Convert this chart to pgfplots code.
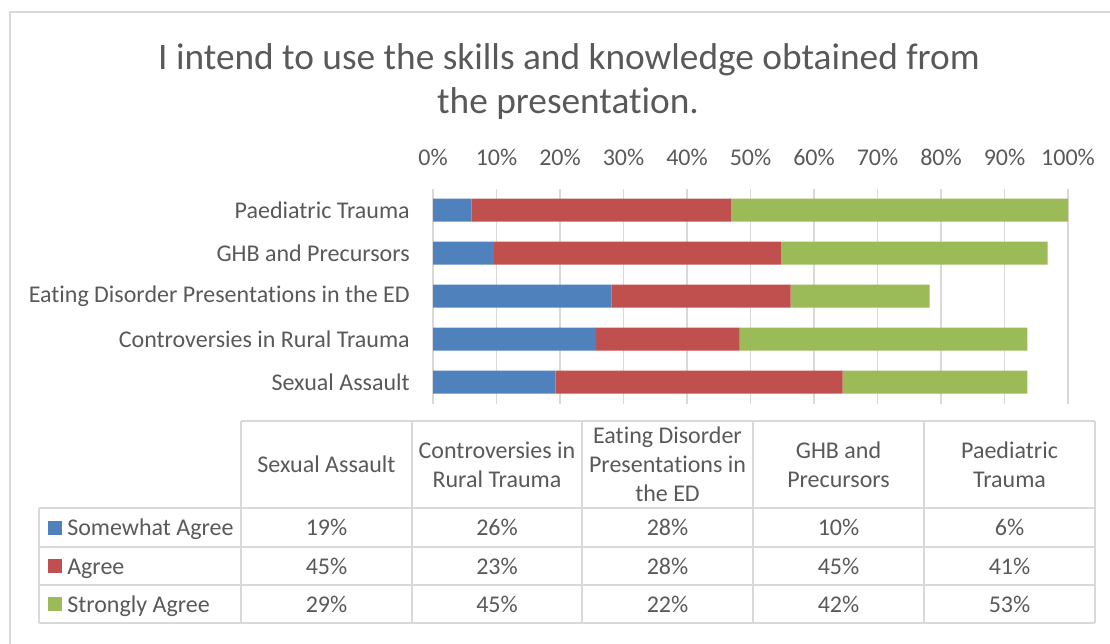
\documentclass[border=0pt]{standalone}
\usepackage{fontspec}
\setmainfont{Carlito}[Ligatures={NoCommon}]
\usepackage{pgfplots}
\usepackage{pgfplotstable}
\pgfplotsset{compat=1.18}
\definecolor{txt}{HTML}{595959}
\definecolor{gridc}{HTML}{D9D9D9}
\definecolor{cblue}{HTML}{4F81BD}
\definecolor{cred}{HTML}{C0504D}
\definecolor{cgreen}{HTML}{9BBB59}

\pgfplotstableread{
y sa a st
0 19.3 45.2 29.1
1 25.7 22.6 45.3
2 28.1 28.2 21.9
3 9.6 45.2 42.0
4 6.1 40.8 53.1
}\data

\begin{document}
\begin{tikzpicture}
\begin{scope}[x=0.75pt,y=-0.75pt]
\path[use as bounding box] (0,0) rectangle (1110,643);
\draw[gridc, line width=1.1pt] (10,12) rectangle (1140,680);
\node[anchor=base, inner sep=0pt, font=\fontsize{28pt}{33pt}\selectfont, text=txt] at (569,69) {I intend to use the skills and knowledge obtained from};
\node[anchor=base, inner sep=0pt, font=\fontsize{28pt}{33pt}\selectfont, text=txt] at (568,113) {the presentation.};
\end{scope}

\begin{axis}[
  at={(324.75pt,-141.375pt)}, anchor=north west,
  scale only axis, width=476.25pt, height=161.25pt,
  xbar stacked, bar width=17.25pt,
  xmin=0, xmax=100, ymin=-0.5, ymax=4.5,
  xtick={0,10,...,100}, xticklabel pos=upper,
  xticklabel={\pgfmathprintnumber{\tick}\%},
  ytick={0,1,2,3,4},
  yticklabels={Sexual Assault, Controversies in Rural Trauma, Eating Disorder Presentations in the ED, GHB and Precursors, Paediatric Trauma},
  axis line style={draw=none}, major tick length=0pt,
  xmajorgrids, grid style={gridc, line width=0.9pt},
  ticklabel style={font=\fontsize{18pt}{22pt}\selectfont, text=txt},
  xticklabel style={anchor=south, inner sep=0pt, yshift=17pt},
  yticklabel style={anchor=east, inner sep=0pt, xshift=-17.25pt},
  /pgf/number format/assume math mode=true,
  clip=false,
]
\addplot[fill=cblue, draw=none] table[x=sa, y=y]{\data};
\addplot[fill=cred, draw=none] table[x=a, y=y]{\data};
\addplot[fill=cgreen, draw=none] table[x=st, y=y]{\data};
\end{axis}

\begin{scope}[x=0.75pt,y=-0.75pt, every node/.style={inner sep=0pt, font=\fontsize{18pt}{22pt}\selectfont, text=txt}]
\draw[gridc, line width=1.1pt] (241,421) -- (1095,421);
\foreach \yy in {508,547,585,623} \draw[gridc, line width=1.1pt] (39,\yy) -- (1095,\yy);
\draw[gridc, line width=1.1pt] (39,508) -- (39,623);
\foreach \xx in {241,412,582,753,924,1095} \draw[gridc, line width=1.1pt] (\xx,421) -- (\xx,623);
% header
\node[anchor=base] at (326.5,472.5) {Sexual Assault};
\node[anchor=base] at (497,458) {Controversies in};
\node[anchor=base] at (497,487) {Rural Trauma};
\node[anchor=base] at (667.5,443.5) {Eating Disorder};
\node[anchor=base] at (667.5,472.5) {Presentations in};
\node[anchor=base] at (667.5,501.5) {the ED};
\node[anchor=base] at (838.5,458) {GHB and};
\node[anchor=base] at (838.5,487) {Precursors};
\node[anchor=base] at (1009.5,458) {Paediatric};
\node[anchor=base] at (1009.5,487) {Trauma};
% legend column
\fill[cblue] (48,520.5) rectangle (62,534.5);
\fill[cred] (48,559) rectangle (62,573);
\fill[cgreen] (48,597) rectangle (62,611);
\node[anchor=base west] at (67,535.5) {Somewhat Agree};
\node[anchor=base west] at (67,574) {Agree};
\node[anchor=base west] at (67,612) {Strongly Agree};
% values
\node[anchor=base] at (326.5,535.5) {19\%};
\node[anchor=base] at (497,535.5) {26\%};
\node[anchor=base] at (667.5,535.5) {28\%};
\node[anchor=base] at (838.5,535.5) {10\%};
\node[anchor=base] at (1009.5,535.5) {6\%};
\node[anchor=base] at (326.5,574) {45\%};
\node[anchor=base] at (497,574) {23\%};
\node[anchor=base] at (667.5,574) {28\%};
\node[anchor=base] at (838.5,574) {45\%};
\node[anchor=base] at (1009.5,574) {41\%};
\node[anchor=base] at (326.5,612) {29\%};
\node[anchor=base] at (497,612) {45\%};
\node[anchor=base] at (667.5,612) {22\%};
\node[anchor=base] at (838.5,612) {42\%};
\node[anchor=base] at (1009.5,612) {53\%};
\end{scope}
\end{tikzpicture}
\end{document}
